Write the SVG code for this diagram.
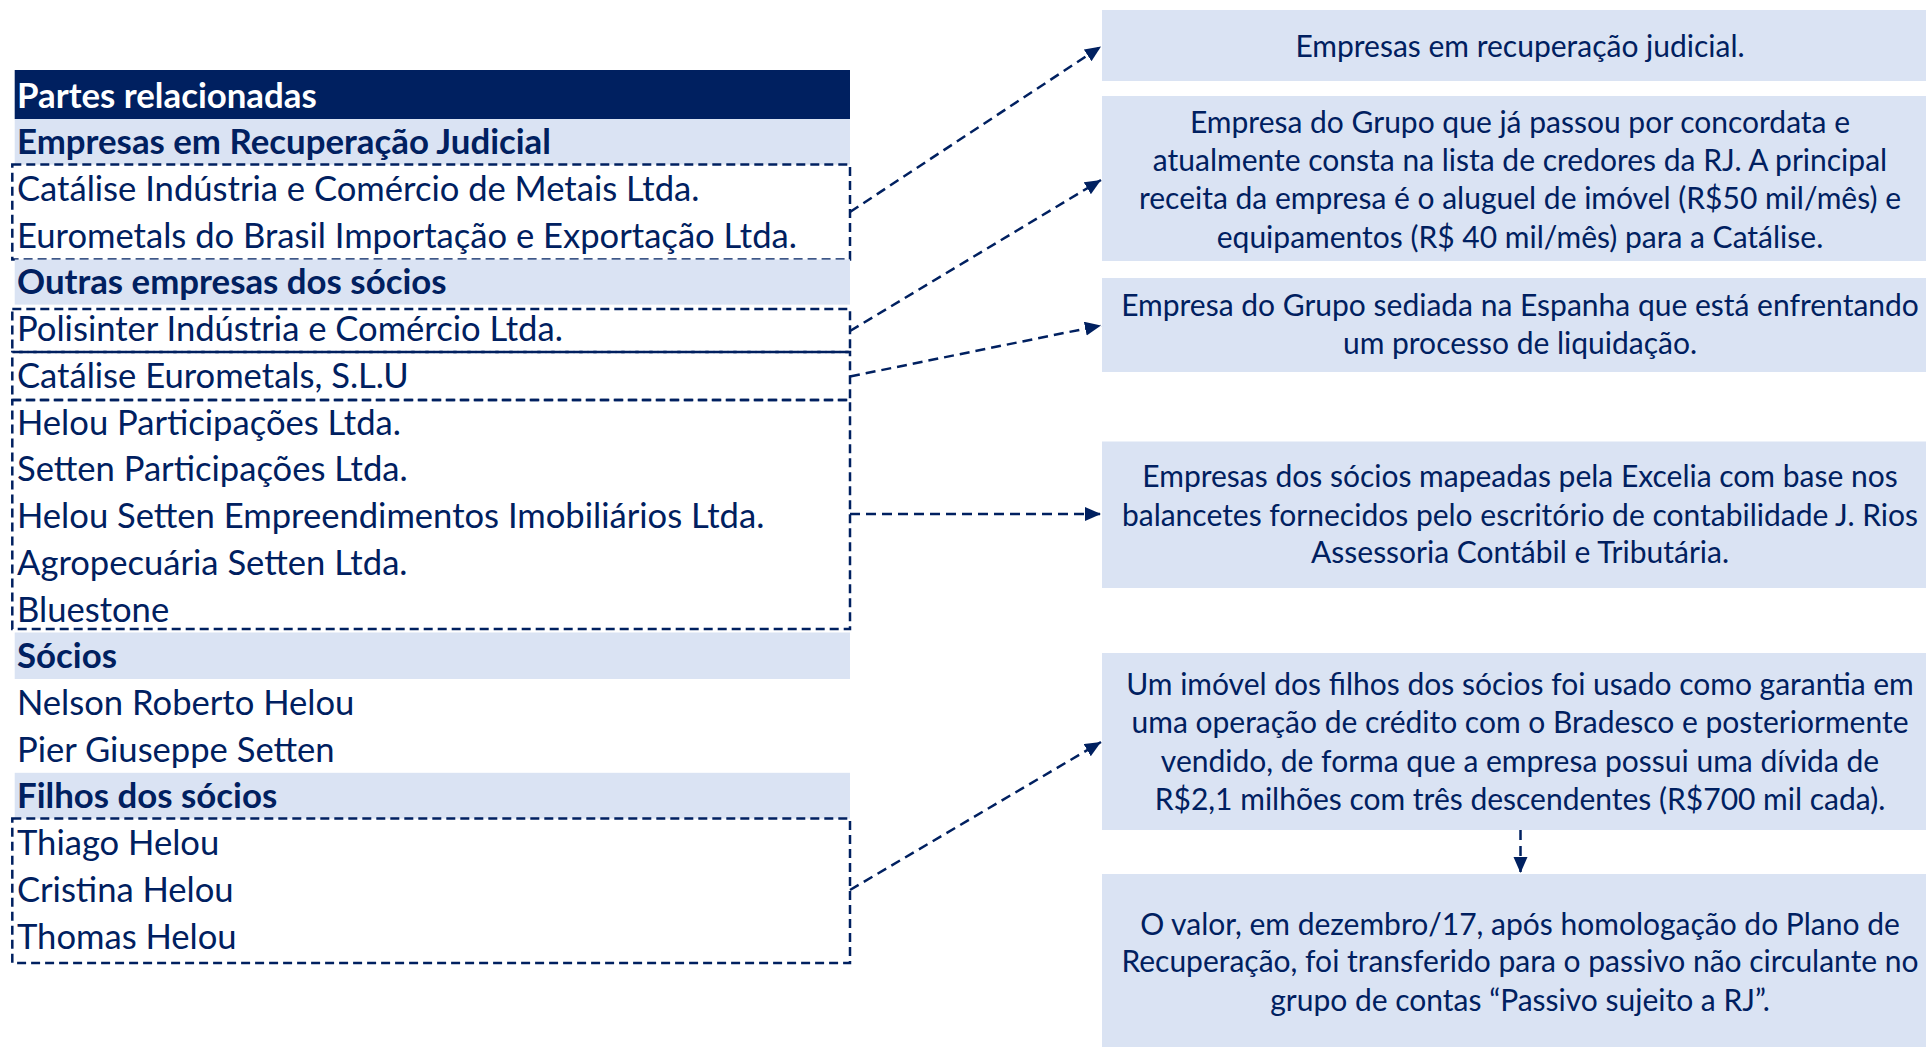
<svg xmlns="http://www.w3.org/2000/svg" width="1926" height="1047" viewBox="0 0 1926 1047">
<style>
.hdr{fill:#002060}
.band{fill:#DAE3F3}
.box{fill:#DAE3F3}
.dash{fill:none;stroke:#002060;stroke-width:2.5;stroke-dasharray:9 5}
.shift{stroke-dashoffset:7}
.conn{fill:none;stroke:#002060;stroke-width:2.5;stroke-dasharray:10 6}
.t{font-family:Lato,"Open Sans","Liberation Sans",sans-serif;fill:#002060}
.l{font-size:34.6px}
.b{font-size:34.8px;font-weight:bold}
.w{fill:#FFFFFF}
.r{font-size:30px;text-anchor:middle}
</style>
<defs>
<marker id="ah" markerUnits="userSpaceOnUse" markerWidth="17" markerHeight="15" refX="16" refY="7" orient="auto">
<path d="M0,0 L16,7 L0,14 z" fill="#002060"/>
</marker>
</defs>
<rect width="1926" height="1047" fill="#FFFFFF"/>
<g id="table">
<g id="header"><rect class="hdr" x="14.7" y="70" width="835.3" height="49"/><text class="t b w" x="17" y="107.5">Partes relacionadas</text></g>
<g id="sec-rj"><rect class="band" x="14.7" y="119" width="835.3" height="45.6"/><text class="t b" x="17" y="154">Empresas em Recuperação Judicial</text></g>
<g id="rj-list"><rect class="dash" x="12.3" y="164.6" width="837.7" height="94.9"/>
<text class="t l" x="17" y="201">Catálise Indústria e Comércio de Metais Ltda.</text>
<text class="t l" x="17" y="247.6">Eurometals do Brasil Importação e Exportação Ltda.</text></g>
<g id="sec-outras"><rect class="band" x="14.7" y="259.5" width="835.3" height="45.1"/><text class="t b" x="17" y="293.6">Outras empresas dos sócios</text></g>
<g id="polisinter"><rect class="dash" x="12.3" y="309" width="837.7" height="43"/><text class="t l" x="17" y="341">Polisinter Indústria e Comércio Ltda.</text></g>
<g id="catalise-slu"><rect class="dash shift" x="12.3" y="352" width="837.7" height="48"/><text class="t l" x="17" y="388">Catálise Eurometals, S.L.U</text></g>
<g id="socios-empresas"><rect class="dash" x="12.3" y="400" width="837.7" height="229"/>
<text class="t l" x="17" y="434.5">Helou Participações Ltda.</text>
<text class="t l" x="17" y="481">Setten Participações Ltda.</text>
<text class="t l" x="17" y="528">Helou Setten Empreendimentos Imobiliários Ltda.</text>
<text class="t l" x="17" y="575">Agropecuária Setten Ltda.</text>
<text class="t l" x="17" y="621.5">Bluestone</text></g>
<g id="sec-socios"><rect class="band" x="14.7" y="632.5" width="835.3" height="46.5"/><text class="t b" x="17" y="668">Sócios</text></g>
<g id="socios-list">
<text class="t l" x="17" y="715">Nelson Roberto Helou</text>
<text class="t l" x="17" y="762">Pier Giuseppe Setten</text></g>
<g id="sec-filhos"><rect class="band" x="14.7" y="772.8" width="835.3" height="45.8"/><text class="t b" x="17" y="807.6">Filhos dos sócios</text></g>
<g id="filhos-list"><rect class="dash" x="12.3" y="818.6" width="837.7" height="144.4"/>
<text class="t l" x="17" y="855">Thiago Helou</text>
<text class="t l" x="17" y="902">Cristina Helou</text>
<text class="t l" x="17" y="949">Thomas Helou</text></g>
</g>
<g id="note1"><rect class="box" x="1102" y="10" width="824" height="71"/>
<text class="t r" x="1520" y="57">Empresas em recuperação judicial.</text></g>
<g id="note2"><rect class="box" x="1102" y="96" width="824" height="165"/>
<text class="t r" x="1520" y="133">Empresa do Grupo que já passou por concordata e</text>
<text class="t r" x="1520" y="171">atualmente consta na lista de credores da RJ. A principal</text>
<text class="t r" x="1520" y="209">receita da empresa é o aluguel de imóvel (R$50 mil/mês) e</text>
<text class="t r" x="1520" y="247.6">equipamentos (R$ 40 mil/mês) para a Catálise.</text></g>
<g id="note3"><rect class="box" x="1102" y="278" width="824" height="94"/>
<text class="t r" x="1520" y="315.6">Empresa do Grupo sediada na Espanha que está enfrentando</text>
<text class="t r" x="1520" y="354">um processo de liquidação.</text></g>
<g id="note4"><rect class="box" x="1102" y="441.5" width="824" height="146.5"/>
<text class="t r" x="1520" y="487">Empresas dos sócios mapeadas pela Excelia com base nos</text>
<text class="t r" x="1520" y="525.6">balancetes fornecidos pelo escritório de contabilidade J. Rios</text>
<text class="t r" x="1520" y="563">Assessoria Contábil e Tributária.</text></g>
<g id="note5"><rect class="box" x="1102" y="653" width="824" height="177"/>
<text class="t r" x="1520" y="695">Um imóvel dos filhos dos sócios foi usado como garantia em</text>
<text class="t r" x="1520" y="733.4">uma operação de crédito com o Bradesco e posteriormente</text>
<text class="t r" x="1520" y="772">vendido, de forma que a empresa possui uma dívida de</text>
<text class="t r" x="1520" y="809.6">R$2,1 milhões com três descendentes (R$700 mil cada).</text></g>
<g id="note6"><rect class="box" x="1102" y="874" width="824" height="173"/>
<text class="t r" x="1520" y="934.5">O valor, em dezembro/17, após homologação do Plano de</text>
<text class="t r" x="1520" y="972">Recuperação, foi transferido para o passivo não circulante no</text>
<text class="t r" x="1520" y="1010.6">grupo de contas “Passivo sujeito a RJ”.</text></g>
<g id="connectors">
<line class="conn" x1="850" y1="212" x2="1101" y2="46.5" marker-end="url(#ah)"/>
<line class="conn" x1="850" y1="331" x2="1101" y2="180" marker-end="url(#ah)"/>
<line class="conn" x1="850" y1="376.5" x2="1101" y2="325.5" marker-end="url(#ah)"/>
<line class="conn" x1="850" y1="514" x2="1101" y2="514" marker-end="url(#ah)"/>
<line class="conn" x1="850" y1="890" x2="1101" y2="742" marker-end="url(#ah)"/>
<line class="conn" x1="1520.5" y1="830" x2="1520.5" y2="873" marker-end="url(#ah)"/>
</g>
</svg>
